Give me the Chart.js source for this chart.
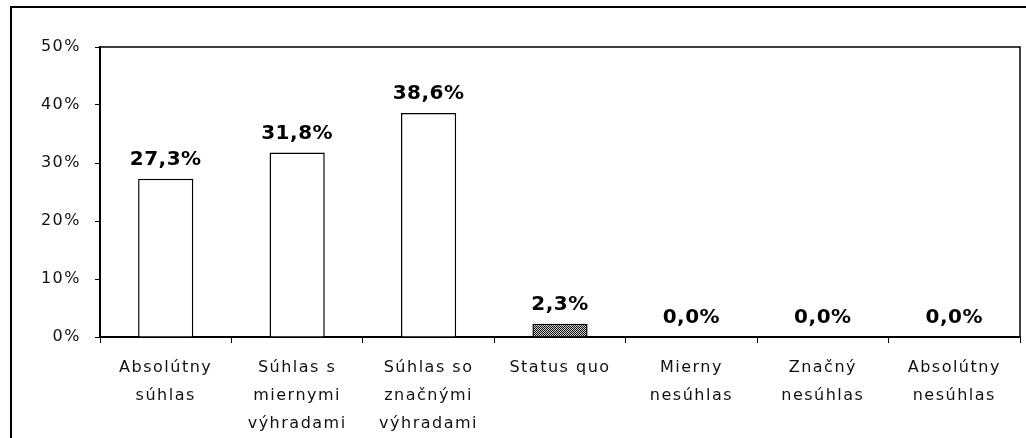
<!DOCTYPE html>
<html>
<head>
<meta charset="utf-8">
<script src="https://cdn.jsdelivr.net/npm/chart.js@4/dist/chart.umd.min.js"></script>
<style>
  html, body { margin: 0; padding: 0; background: #fff; }
  canvas { display: block; }
</style>
</head>
<body>
<canvas id="chart" width="1026" height="438"></canvas>
<script>
const categories = [
  ['Absolútny', 'súhlas'],
  ['Súhlas s', 'miernymi', 'výhradami'],
  ['Súhlas so', 'značnými', 'výhradami'],
  ['Status quo'],
  ['Mierny', 'nesúhlas'],
  ['Značný', 'nesúhlas'],
  ['Absolútny', 'nesúhlas'],
];
const shares = [27.3, 31.8, 38.6, 2.3, 0, 0, 0];
const yTicks = [0, 10, 20, 30, 40, 50];

// small dotted fill for the "Status quo" bar
function dotPattern() {
  const c = document.createElement('canvas');
  c.width = 2; c.height = 2;
  const g = c.getContext('2d');
  g.fillStyle = '#cfcfcf';
  g.fillRect(0, 0, 2, 2);
  g.fillStyle = '#111';
  g.fillRect(0, 0, 1, 1);
  g.fillRect(1, 1, 1, 1);
  return g.createPattern(c, 'repeat');
}

const fills = shares.map((_, i) => i === 3 ? dotPattern() : '#ffffff');

const framePlugin = {
  id: 'frame',
  beforeDraw(chart) {
    const ctx = chart.ctx;
    ctx.save();
    ctx.strokeStyle = '#000';
    ctx.lineWidth = 2;
    ctx.strokeRect(11, 7, 1100, 600);
    const a = chart.chartArea;
    ctx.lineWidth = 1.5;
    ctx.beginPath();
    ctx.moveTo(a.left, a.top);
    ctx.lineTo(a.right, a.top);
    ctx.lineTo(a.right, a.bottom);
    ctx.stroke();
    ctx.restore();
    // Excel-ish spaced lettering on the axis labels
    ctx.letterSpacing = '1.5px';
  },
};

const valueLabels = {
  id: 'valueLabels',
  afterDatasetsDraw(chart) {
    const ctx = chart.ctx;
    const meta = chart.getDatasetMeta(0);
    ctx.save();
    ctx.letterSpacing = '0.5px';
    ctx.font = 'bold 20px "DejaVu Sans", Verdana, sans-serif';
    ctx.fillStyle = '#000';
    ctx.textAlign = 'center';
    ctx.textBaseline = 'alphabetic';
    meta.data.forEach((bar, i) => {
      const txt = shares[i].toFixed(1).replace('.', ',') + '%';
      ctx.fillText(txt, bar.x, bar.y - 14);
    });
    ctx.restore();
  },
};

new Chart(document.getElementById('chart'), {
  type: 'bar',
  data: {
    labels: categories,
    datasets: [{
      data: shares,
      backgroundColor: fills,
      borderColor: '#000',
      borderWidth: 1.5,
      barPercentage: 0.42,
      categoryPercentage: 1,
    }],
  },
  options: {
    responsive: false,
    animation: false,
    devicePixelRatio: 1,
    layout: { padding: { top: 47, right: 6, left: 0, bottom: 0 } },
    plugins: { legend: { display: false }, tooltip: { enabled: false } },
    scales: {
      x: {
        grid: { display: true, drawOnChartArea: false, offset: true, tickLength: 6, color: '#000', lineWidth: 1 },
        border: { display: true, color: '#000', width: 2 },
        ticks: {
          color: '#111', padding: 11, maxRotation: 0, autoSkip: false,
          font: { family: '"DejaVu Sans", Verdana, sans-serif', size: 16, lineHeight: 1.75 },
        },
        afterFit(scale) { scale.height = 101; },
      },
      y: {
        min: 0, max: 50,
        afterBuildTicks(scale) { scale.ticks = yTicks.map(v => ({ value: v })); },
        grid: { display: true, drawOnChartArea: false, tickLength: 5, color: '#000', lineWidth: 1 },
        border: { display: true, color: '#000', width: 2 },
        ticks: {
          color: '#111', padding: 14,
          font: { family: '"DejaVu Sans", Verdana, sans-serif', size: 16 },
          callback: (v) => v + '%',
        },
        afterFit(scale) { scale.width = 100; },
      },
    },
  },
  plugins: [framePlugin, valueLabels],
});
</script>
</body>
</html>
